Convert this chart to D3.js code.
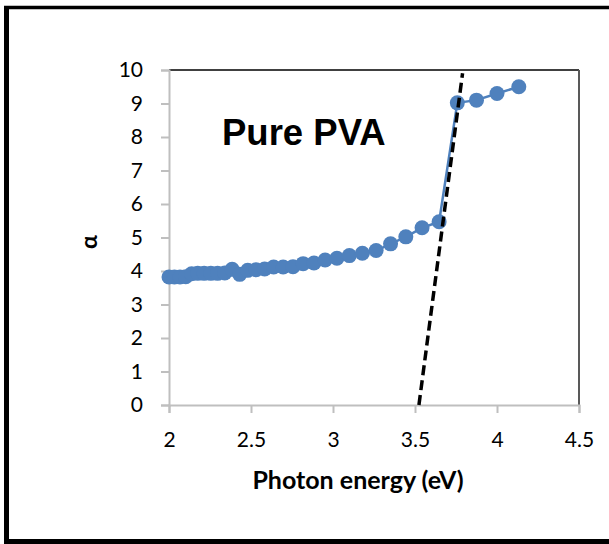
<!DOCTYPE html>
<html>
<head>
<meta charset="utf-8">
<script src="https://cdn.jsdelivr.net/npm/d3@7"></script>
<style>
  html, body { margin: 0; padding: 0; background: #fff; }
  svg { display: block; }
</style>
</head>
<body>
<svg id="chart" width="609" height="544"></svg>
<script>
// Photon energy (eV) of each measurement
const energy = [2.000, 2.033, 2.067, 2.102, 2.138, 2.175, 2.214, 2.255, 2.296, 2.340,
                2.385, 2.431, 2.480, 2.531, 2.583, 2.638, 2.696, 2.756, 2.818, 2.884,
                2.952, 3.024, 3.100, 3.179, 3.263, 3.351, 3.444, 3.543, 3.647, 3.758,
                3.875, 4.000, 4.133];
// Absorption coefficient α
const alpha = [3.82, 3.82, 3.82, 3.83, 3.92, 3.93, 3.93, 3.93, 3.93, 3.94,
               4.05, 3.90, 4.02, 4.04, 4.06, 4.12, 4.12, 4.13, 4.22, 4.24,
               4.33, 4.38, 4.46, 4.53, 4.61, 4.81, 5.02, 5.29, 5.47, 9.02,
               9.10, 9.30, 9.50];
// Linear extrapolation of the absorption edge
const fitEnergy = [3.524, 3.79];
const fitAlpha = [0, 9.9];

const xTicks = [2, 2.5, 3, 3.5, 4, 4.5];
const yTicks = [0, 1, 2, 3, 4, 5, 6, 7, 8, 9, 10];

const svg = d3.select("#chart");
const plotL = 169, plotR = 579, plotT = 70, plotB = 405;
const uiFont = "Lato, 'Open Sans', sans-serif";

const x = d3.scaleLinear().domain([2, 4.5]).range([plotL, plotR]);
const y = d3.scaleLinear().domain([0, 10]).range([plotB, plotT]);

// outer frame
svg.append("line").attr("x1", 4).attr("x2", 609).attr("y1", 7.5).attr("y2", 7.5)
  .attr("stroke", "#000").attr("stroke-width", 3.5);
svg.append("line").attr("x1", 6.5).attr("x2", 6.5).attr("y1", 6).attr("y2", 544)
  .attr("stroke", "#000").attr("stroke-width", 5);
svg.append("line").attr("x1", 4).attr("x2", 609).attr("y1", 541.5).attr("y2", 541.5)
  .attr("stroke", "#000").attr("stroke-width", 5);

// plot area border (top and right)
svg.append("line").attr("x1", plotL).attr("x2", plotR).attr("y1", plotT).attr("y2", plotT)
  .attr("stroke", "#000").attr("stroke-width", 1.5);
svg.append("line").attr("x1", plotR).attr("x2", plotR).attr("y1", plotT).attr("y2", plotB)
  .attr("stroke", "#595959").attr("stroke-width", 2);

// axes
const xAxis = d3.axisBottom(x).tickValues(xTicks).tickSize(8).tickPadding(19)
  .tickFormat(d3.format("~g"));
const gx = svg.append("g").attr("transform", `translate(0,${plotB})`).call(xAxis);
gx.select(".domain").attr("stroke", "#bfbfbf").attr("stroke-width", 2);
gx.selectAll(".tick line").attr("stroke", "#bfbfbf").attr("stroke-width", 2);
gx.selectAll(".tick text").attr("font-family", uiFont)
  .attr("font-size", 21).attr("fill", "#000");

const yAxis = d3.axisLeft(y).tickValues(yTicks).tickSize(8).tickPadding(18)
  .tickFormat(d3.format("d"));
const gy = svg.append("g").attr("transform", `translate(${plotL},0)`).call(yAxis);
gy.select(".domain").attr("stroke", "#bfbfbf").attr("stroke-width", 2);
gy.selectAll(".tick line").attr("stroke", "#bfbfbf").attr("stroke-width", 2);
gy.selectAll(".tick text").attr("font-family", uiFont)
  .attr("font-size", 21).attr("fill", "#000");

// axis titles
svg.append("text").attr("x", 358).attr("y", 489).attr("text-anchor", "middle")
  .attr("font-family", uiFont).attr("font-weight", "bold")
  .attr("font-size", 25).text("Photon energy (eV)");
svg.append("text").attr("transform", "translate(97,242) rotate(-90)")
  .attr("text-anchor", "middle")
  .attr("font-family", uiFont).attr("font-weight", "bold")
  .attr("font-size", 23).text("α");

// sample label
svg.append("text").attr("x", 222).attr("y", 145)
  .attr("font-family", "'Liberation Sans', Arial, sans-serif").attr("font-weight", "bold")
  .attr("font-size", 36.5).text("Pure PVA");

// data series
const pts = energy.map((e, i) => [e, alpha[i]]);
const line = d3.line().x(d => x(d[0])).y(d => y(d[1]));
svg.append("path").datum(pts).attr("d", line)
  .attr("fill", "none").attr("stroke", "#4f81bd").attr("stroke-width", 2.5);
svg.append("g").selectAll("circle").data(pts).join("circle")
  .attr("cx", d => x(d[0])).attr("cy", d => y(d[1])).attr("r", 7.5)
  .attr("fill", "#4f81bd");

// extrapolated edge line
const fit = fitEnergy.map((e, i) => [e, fitAlpha[i]]);
svg.append("path").datum(fit).attr("d", line)
  .attr("fill", "none").attr("stroke", "#000").attr("stroke-width", 3.5)
  .attr("stroke-dasharray", "10,5");
</script>
</body>
</html>
